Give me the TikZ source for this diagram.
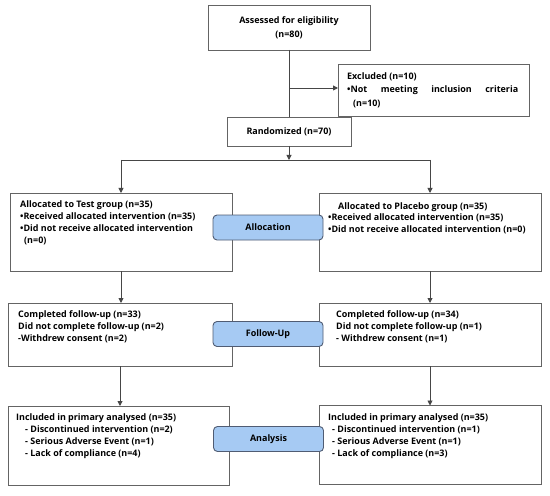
\documentclass[tikz,border=0pt]{standalone}
\usepackage{fontspec}
\setmainfont{Open Sans}
\usetikzlibrary{arrows.meta}
\definecolor{linec}{RGB}{70,70,70}
\definecolor{boxc}{RGB}{100,100,100}
\definecolor{tagfill}{RGB}{166,202,243}
\definecolor{tagdraw}{RGB}{80,92,115}
\newcommand{\fsz}{\fontsize{9}{12}\selectfont\bfseries}
\begin{document}
\begin{tikzpicture}[x=1bp,y=-1bp,
  box/.style={draw=boxc, line width=0.9bp, inner sep=0pt, outer sep=0pt, fill=white},
  tag/.style={draw=tagdraw, fill=tagfill, line width=0.9bp, rounded corners=4bp, minimum width=110bp, minimum height=25bp, inner sep=0pt, font=\fontsize{9}{10}\selectfont\bfseries},
  txt/.style={anchor=north west, inner sep=0pt, align=left, font=\fsz},
  conn/.style={draw=linec, line width=0.9bp},
  arr/.style={conn, -{Triangle[length=5bp,width=5bp]}}]
\useasboundingbox (0,0) rectangle (550,496);
\fill[white] (0,0) rectangle (550,496);
% boxes
\node[box, minimum width=162bp, minimum height=45bp] (assess) at (289,27.5) {};
\node[box, minimum width=191bp, minimum height=52bp] (excl) at (433.5,90) {};
\node[box, minimum width=124bp, minimum height=29bp] (rand) at (289,131.5) {};
\node[box, minimum width=222bp, minimum height=78bp] (test) at (121,232) {};
\node[box, minimum width=222bp, minimum height=78bp] (plac) at (430,232) {};
\node[box, minimum width=224bp, minimum height=63bp] (fuL) at (120,334.5) {};
\node[box, minimum width=222bp, minimum height=63bp] (fuR) at (430,334.5) {};
\node[box, minimum width=221bp, minimum height=79bp] (anL) at (118.5,445.5) {};
\node[box, minimum width=222bp, minimum height=79bp] (anR) at (430,445) {};
% connectors
\coordinate (jx) at (289,88);
\coordinate (split) at (289,160);
\draw[conn] (assess.south) -- (rand.north);
\draw[arr] (jx) -- (jx -| excl.west);
\draw[arr] (rand.south) -- (split);
\draw[conn] (test.north |- split) -- (plac.north |- split);
\draw[arr] (test.north |- split) -- (test.north);
\draw[arr] (plac.north |- split) -- (plac.north);
\draw[arr] (test.south) -- (test.south |- fuL.north);
\draw[arr] (plac.south) -- (plac.south |- fuR.north);
\draw[arr] (fuL.south) -- (fuL.south |- anL.north);
\draw[arr] (fuR.south) -- (fuR.south |- anR.north);
% tags
\node[tag] (tAlloc) at (268,227.5) {Allocation};
\node[tag] (tFU) at (268,334) {Follow-Up};
\node[tag] (tAn) at (268.5,439) {Analysis};
% texts
\node[align=center, inner sep=0pt, font=\fontsize{9}{14}\selectfont\bfseries] (assessT) at (assess.center) {Assessed for eligibility\\(n=80)};
\node[txt, font=\fontsize{9}{13.5}\selectfont\bfseries] (exclT) at (347,72.5) {Excluded (n=10)\\\hbox to 171bp{\textbullet Not\hfill meeting\hfill inclusion\hfill criteria}\\\hspace*{6bp}(n=10)};
\node[inner sep=0pt, font=\fsz] (randT) at (rand.center) {Randomized (n=70)};
\node[txt] (testT) at (20,200.5) {Allocated to Test group (n=35)\\\textbullet Received allocated intervention (n=35)\\\textbullet Did not receive allocated intervention\\\hspace*{4bp}(n=0)};
\node[txt] (placT) at (328,202) {\hspace*{10bp}Allocated to Placebo group (n=35)\\\textbullet Received allocated intervention (n=35)\\\textbullet Did not receive allocated intervention (n=0)};
\node[txt] (fuLT) at (18,310.5) {Completed follow-up (n=33)\\Did not complete follow-up (n=2)\\-Withdrew consent (n=2)};
\node[txt] (fuRT) at (336,310.5) {Completed follow-up (n=34)\\Did not complete follow-up (n=1)\\- Withdrew consent (n=1)};
\node[txt] (anLT) at (16,413.5) {Included in primary analysed (n=35)\\\hspace*{9bp}- Discontinued intervention (n=2)\\\hspace*{9bp}- Serious Adverse Event (n=1)\\\hspace*{9bp}- Lack of compliance (n=4)};
\node[txt] (anRT) at (328,413.5) {Included in primary analysed (n=35)\\\hspace*{4bp}- Discontinued intervention (n=1)\\\hspace*{4bp}- Serious Adverse Event (n=1)\\\hspace*{4bp}- Lack of compliance (n=3)};
\end{tikzpicture}
\end{document}
